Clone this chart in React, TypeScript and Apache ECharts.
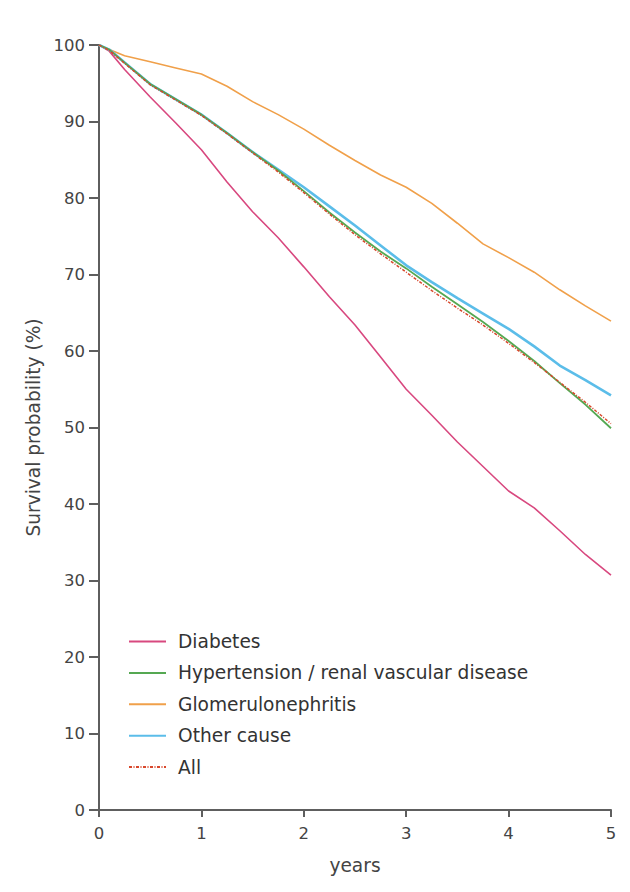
import React, { useEffect, useRef } from "react";
import * as echarts from "echarts";

const years = [0, 0.1, 0.25, 0.5, 0.75, 1, 1.25, 1.5, 1.75, 2, 2.25, 2.5, 2.75, 3, 3.25, 3.5, 3.75, 4, 4.25, 4.5, 4.75, 5];
const diabetes = [100, 99.2, 96.8, 93.2, 89.8, 86.3, 82.1, 78.2, 74.8, 71.0, 67.1, 63.4, 59.2, 55.0, 51.6, 48.1, 44.9, 41.7, 39.5, 36.5, 33.4, 30.7];
const hypertension = [100, 99.4, 97.7, 94.9, 92.9, 90.9, 88.5, 86.0, 83.6, 80.9, 78.1, 75.5, 73.0, 70.8, 68.4, 66.1, 63.8, 61.3, 58.7, 55.8, 53.0, 49.9];
const glomerulo = [100, 99.4, 98.6, 97.8, 97.0, 96.2, 94.6, 92.6, 90.9, 89.0, 86.9, 84.9, 83.0, 81.4, 79.3, 76.7, 74.0, 72.2, 70.3, 68.0, 65.9, 63.9];
const otherCause = [100, 99.4, 97.7, 94.9, 92.9, 90.9, 88.5, 86.0, 83.7, 81.4, 78.9, 76.4, 73.8, 71.2, 69.0, 66.9, 64.9, 62.9, 60.6, 58.1, 56.2, 54.2];
const allCauses = [100, 99.3, 97.6, 94.8, 92.8, 90.8, 88.4, 85.9, 83.4, 80.7, 77.9, 75.2, 72.7, 70.3, 67.9, 65.6, 63.4, 61.0, 58.5, 55.9, 53.3, 50.5];

const seriesNames = ["Diabetes", "Hypertension / renal vascular disease", "Glomerulonephritis", "Other cause", "All"];

const FONT = "DejaVu Sans, Verdana, sans-serif";

function pairs(ys: number[]) {
  return years.map((x, i) => [x, ys[i]]);
}

export default function App() {
  const ref = useRef<HTMLDivElement>(null);
  useEffect(() => {
    if (!ref.current) return;
    const chart = echarts.init(ref.current, undefined, { renderer: "svg" });
    const axisColor = "#5e5e5e";
    const labelColor = "#444";
    chart.setOption({
      animation: false,
      backgroundColor: "#ffffff",
      textStyle: { fontFamily: FONT },
      grid: { left: 99, right: 19, top: 45, bottom: 82, containLabel: false },
      legend: {
        orient: "vertical",
        left: 123,
        top: 627,
        itemWidth: 37,
        itemHeight: 14,
        itemGap: 12.4,
        data: seriesNames,
        itemStyle: { opacity: 0 },
        textStyle: { fontFamily: FONT, fontSize: 18.6, color: "#333", padding: [0, 0, 0, 7], lineHeight: 18.6 },
      },
      xAxis: {
        type: "value",
        min: 0,
        max: 5,
        interval: 1,
        name: "years",
        nameLocation: "middle",
        nameGap: 46,
        nameTextStyle: { fontFamily: FONT, fontSize: 18.6, color: labelColor },
        axisLine: { show: true, onZero: false, lineStyle: { color: axisColor, width: 2 } },
        axisTick: { show: true, length: 7, lineStyle: { color: axisColor, width: 2 } },
        axisLabel: { fontFamily: FONT, fontSize: 16.5, color: labelColor, margin: 15 },
        splitLine: { show: false },
      },
      yAxis: {
        type: "value",
        min: 0,
        max: 100,
        interval: 10,
        name: "Survival probability (%)",
        nameLocation: "middle",
        nameGap: 55,
        nameTextStyle: { fontFamily: FONT, fontSize: 18.6, color: labelColor },
        axisLine: { show: true, onZero: false, lineStyle: { color: axisColor, width: 2 } },
        axisTick: { show: true, length: 10, lineStyle: { color: axisColor, width: 2 } },
        axisLabel: { fontFamily: FONT, fontSize: 16.5, color: labelColor, margin: 14 },
        splitLine: { show: false },
      },
      series: [
        {
          name: "Diabetes",
          type: "line",
          data: pairs(diabetes),
          symbol: "none",
          z: 2,
          lineStyle: { color: "#d8487f", width: 1.6 },
          itemStyle: { color: "#d8487f" },
        },
        {
          name: "Glomerulonephritis",
          type: "line",
          data: pairs(glomerulo),
          symbol: "none",
          z: 2,
          lineStyle: { color: "#f0a04a", width: 1.6 },
          itemStyle: { color: "#f0a04a" },
        },
        {
          name: "Other cause",
          type: "line",
          data: pairs(otherCause),
          symbol: "none",
          z: 2,
          lineStyle: { color: "#5bbde9", width: 2.6 },
          itemStyle: { color: "#5bbde9" },
        },
        {
          name: "Hypertension / renal vascular disease",
          type: "line",
          data: pairs(hypertension),
          symbol: "none",
          z: 3,
          lineStyle: { color: "#55a852", width: 1.8 },
          itemStyle: { color: "#55a852" },
        },
        {
          name: "All",
          type: "line",
          data: pairs(allCauses),
          symbol: "none",
          z: 4,
          lineStyle: { color: "#d8472b", width: 1.5, type: [3, 1.5, 1, 1.5] },
          itemStyle: { color: "#d8472b" },
        },
      ],
    });
    return () => chart.dispose();
  }, []);
  return (
    <div
      ref={ref}
      style={{ position: "fixed", left: 0, top: 0, width: 630, height: 892, background: "#fff" }}
    />
  );
}
